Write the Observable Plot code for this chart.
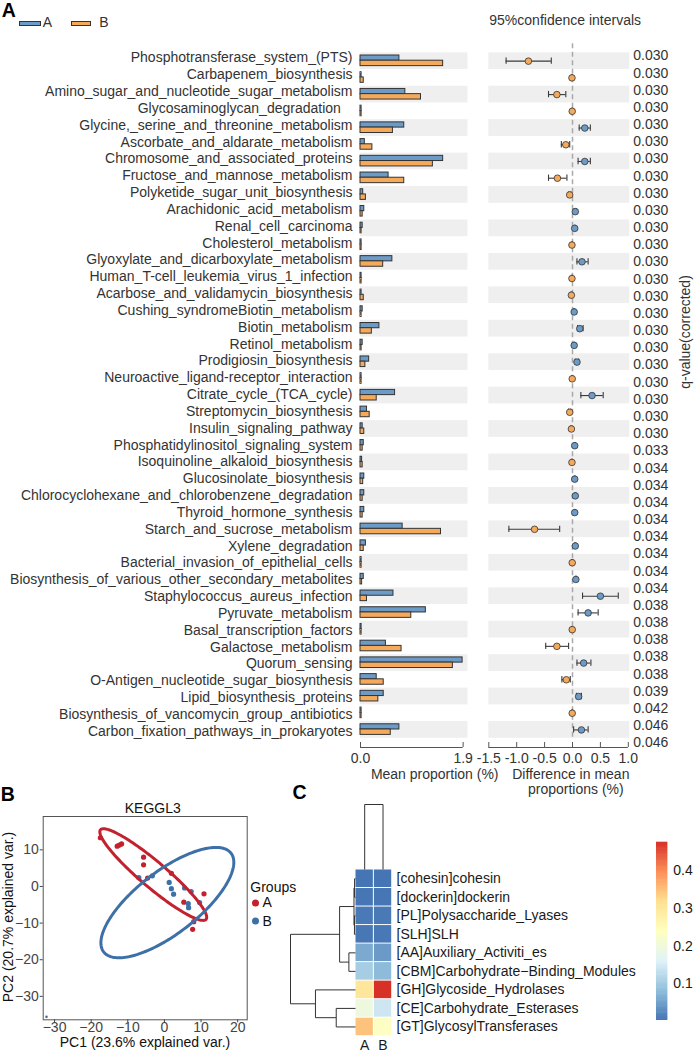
<!DOCTYPE html>
<html>
<head>
<meta charset="utf-8">
<script src="https://cdn.jsdelivr.net/npm/d3@7"></script>
<script src="https://cdn.jsdelivr.net/npm/@observablehq/plot@0.6"></script>
<style>
html, body { margin: 0; padding: 0; background: #fff; }
#fig { position: relative; width: 694px; height: 1053px; overflow: hidden; font-family: "Liberation Sans", Arial, sans-serif; color: #333; }
.t { position: absolute; white-space: pre; line-height: 1; }
.sw { position: absolute; box-sizing: border-box; border: 1px solid #333; }
</style>
</head>
<body>
<div id="fig"></div>
<script>
// ---------- Panel A: KEGG pathways, mean proportions and differences ----------
const pathways = [
  "Phosphotransferase_system_(PTS)", "Carbapenem_biosynthesis", "Amino_sugar_and_nucleotide_sugar_metabolism",
  "Glycosaminoglycan_degradation", "Glycine,_serine_and_threonine_metabolism", "Ascorbate_and_aldarate_metabolism",
  "Chromosome_and_associated_proteins", "Fructose_and_mannose_metabolism", "Polyketide_sugar_unit_biosynthesis",
  "Arachidonic_acid_metabolism", "Renal_cell_carcinoma", "Cholesterol_metabolism",
  "Glyoxylate_and_dicarboxylate_metabolism", "Human_T-cell_leukemia_virus_1_infection", "Acarbose_and_validamycin_biosynthesis",
  "Cushing_syndromeBiotin_metabolism", "Biotin_metabolism", "Retinol_metabolism",
  "Prodigiosin_biosynthesis", "Neuroactive_ligand-receptor_interaction", "Citrate_cycle_(TCA_cycle)",
  "Streptomycin_biosynthesis", "Insulin_signaling_pathway", "Phosphatidylinositol_signaling_system",
  "Isoquinoline_alkaloid_biosynthesis", "Glucosinolate_biosynthesis", "Chlorocyclohexane_and_chlorobenzene_degradation",
  "Thyroid_hormone_synthesis", "Starch_and_sucrose_metabolism", "Xylene_degradation",
  "Bacterial_invasion_of_epithelial_cells", "Biosynthesis_of_various_other_secondary_metabolites", "Staphylococcus_aureus_infection",
  "Pyruvate_metabolism", "Basal_transcription_factors", "Galactose_metabolism",
  "Quorum_sensing", "O-Antigen_nucleotide_sugar_biosynthesis", "Lipid_biosynthesis_proteins",
  "Biosynthesis_of_vancomycin_group_antibiotics", "Carbon_fixation_pathways_in_prokaryotes"
];
// a few names carry trailing blanks in the source table, which shifts them left
const labelPad = {"Glycosaminoglycan_degradation": "\u00a0\u00a0\u00a0"};
const meanA = [0.72, 0.02, 0.83, 0.02, 0.81, 0.08, 1.53, 0.52, 0.05, 0.07, 0.04, 0.02, 0.59, 0.02, 0.02, 0.04, 0.35, 0.04, 0.16, 0.02, 0.64,
               0.12, 0.04, 0.06, 0.03, 0.07, 0.07, 0.07, 0.78, 0.10, 0.02, 0.06, 0.61, 1.21, 0.02, 0.47, 1.89, 0.30, 0.43, 0.02, 0.72];
const meanB = [1.53, 0.06, 1.12, 0.02, 0.60, 0.22, 1.34, 0.81, 0.10, 0.04, 0.02, 0.02, 0.42, 0.02, 0.06, 0.02, 0.21, 0.02, 0.09, 0.02, 0.30,
               0.17, 0.07, 0.04, 0.04, 0.05, 0.04, 0.04, 1.49, 0.06, 0.02, 0.03, 0.12, 0.94, 0.02, 0.76, 1.71, 0.43, 0.33, 0.02, 0.56];
const diffMean = [-0.79, -0.01, -0.28, -0.005, 0.22, -0.12, 0.22, -0.27, -0.05, 0.05, 0.04, -0.01, 0.17, -0.01, -0.02, 0.03, 0.13, 0.03, 0.08, -0.005, 0.35,
                  -0.05, -0.02, 0.04, -0.01, 0.04, 0.05, 0.04, -0.68, 0.05, -0.005, 0.06, 0.50, 0.28, -0.005, -0.28, 0.20, -0.11, 0.11, -0.005, 0.16];
const ciLow  = [-1.19, -0.02, -0.43, -0.015, 0.12, -0.20, 0.10, -0.43, -0.07, 0.03, 0.03, -0.02, 0.08, -0.02, -0.03, 0.02, 0.09, 0.02, 0.05, -0.015, 0.15,
                -0.07, -0.03, 0.03, -0.02, 0.03, 0.04, 0.03, -1.14, 0.04, -0.015, 0.05, 0.18, 0.10, -0.015, -0.48, 0.08, -0.19, 0.07, -0.015, 0.02];
const ciHigh = [-0.38, 0.00, -0.12, 0.005, 0.32, -0.05, 0.32, -0.10, -0.03, 0.07, 0.05, 0.00, 0.28, 0.00, -0.01, 0.04, 0.19, 0.04, 0.11, 0.005, 0.55,
                -0.03, -0.01, 0.05, 0.00, 0.05, 0.06, 0.05, -0.23, 0.06, 0.005, 0.07, 0.82, 0.46, 0.005, -0.07, 0.33, -0.04, 0.16, 0.005, 0.28];
const qValues = [
  "0.030", "0.030", "0.030", "0.030", "0.030", "0.030", "0.030", "0.030", "0.030", "0.030", "0.030", "0.030",
  "0.030", "0.030", "0.030", "0.030", "0.030", "0.030", "0.030", "0.030", "0.030", "0.030", "0.030",
  "0.033", "0.034", "0.034", "0.034", "0.034", "0.034", "0.034", "0.034", "0.034",
  "0.038", "0.038", "0.038", "0.038", "0.038", "0.039", "0.042", "0.046", "0.046"
];
const barTicks = [0, 1.9];
const ciTicks = [-1.5, -1.0, -0.5, 0.0, 0.5, 1.0];

// ---------- Panel B: PCA of KEGG level-3 profiles ----------
const groups = ["A", "B"];
const pcaAx = [-17.5, -12.9, -12.3, -11.7, -5.7, -5.7, -4.6, 1.9, 5.3, 10.8, 8.0, 7.7];
const pcaAy = [13.3, 11.0, 11.3, 11.6, 8.0, 5.9, 2.3, 3.6, -4.3, -2.0, -9.6, -11.7];
const pcaBx = [-7.0, -3.3, 1.3, 1.9, 2.5, 5.5, 7.3, 6.5, 6.6, 9.6];
const pcaBy = [2.4, 2.9, 1.1, -0.6, -2.1, -0.4, -1.4, -4.7, -5.8, -4.4];
const pcaStray = [{x: -32.2, y: -35.6}];
// confidence ellipses: centre, semi-axes and rotation (degrees)
const ellipses = [
  {group: "A", cx: -3.05, cy: 3.25, a: 18.9, b: 3.5, angle: -40.3},
  {group: "B", cx: 0.8, cy: -4.4, a: 22.0, b: 8.5, angle: 37.8}
];

// ---------- Panel C: CAZy family heatmap ----------
const modules = [
  "[cohesin]cohesin", "[dockerin]dockerin", "[PL]Polysaccharide_Lyases", "[SLH]SLH",
  "[AA]Auxiliary_Activiti_es", "[CBM]Carbohydrate\u2212Binding_Modules", "[GH]Glycoside_Hydrolases",
  "[CE]Carbohydrate_Esterases", "[GT]GlycosylTransferases"
];
const heatA = [0.002, 0.003, 0.006, 0.004, 0.058, 0.102, 0.299, 0.195, 0.346];
const heatB = [0.002, 0.003, 0.007, 0.005, 0.042, 0.077, 0.476, 0.141, 0.232];
// hclust-style merges: negative = leaf (1-based display order), positive = earlier merge
const rowMerge = [[-1, -2], [-3, -4], [1, 2], [-5, -6], [3, 4], [-8, -9], [-7, 6], [5, 7]];
const rowHeight = [0.008, 0.009, 0.013, 0.057, 0.137, 0.166, 0.345, 0.56];
const colMerge = [[-1, -2]];
const colHeight = [0.33];
const heatTicks = [0.1, 0.2, 0.3, 0.4];
const palette = ["#4575B4", "#91BFDB", "#E0F3F8", "#FFFFBF", "#FEE090", "#FC8D59", "#D73027"];

// ---------- drawing ----------
const W = 694, H = 1053;
const FONT = "'Liberation Sans', Arial, sans-serif";
const BLUE = "#6B9BC6", ORANGE = "#F5A95B", RED = "#C4212E", STEEL = "#3E70A8";
const fig = document.getElementById("fig");

function layer({top = 0, width = W, height = H, ...opts}) {
  const svg = Plot.plot({
    width, height,
    style: {fontFamily: FONT, fontSize: "14px", color: "#333", background: "transparent", overflow: "visible"},
    ...opts
  });
  svg.style.position = "absolute";
  svg.style.left = "0px";
  svg.style.top = top + "px";
  fig.appendChild(svg);
}

function label(text, x, y, {size = 14, anchor = "start", weight = 400, rotate = 0, color = "#333"} = {}) {
  const el = document.createElement("div");
  el.className = "t";
  el.textContent = text;
  const tx = anchor === "start" ? "0%" : anchor === "middle" ? "-50%" : "-100%";
  el.style.left = x + "px";
  el.style.top = y + "px";
  el.style.fontSize = size + "px";
  el.style.fontWeight = weight;
  el.style.color = color;
  el.style.transform = `translate(${tx},-50%)` + (rotate ? ` rotate(${rotate}deg)` : "");
  fig.appendChild(el);
}

function swatch(x, y, w, h, fill) {
  const el = document.createElement("div");
  el.className = "sw";
  Object.assign(el.style, {left: x + "px", top: y + "px", width: w + "px", height: h + "px", background: fill});
  fig.appendChild(el);
}

// tree segments from merge table (position along leaves, height)
function dendroSegments(merge, height) {
  const nodes = [], segs = [];
  const node = k => (k < 0 ? {pos: -k, h: 0} : nodes[k - 1]);
  merge.forEach(([a, b], i) => {
    const A = node(a), B = node(b), h = height[i];
    segs.push({p1: A.pos, h1: A.h, p2: A.pos, h2: h});
    segs.push({p1: B.pos, h1: B.h, p2: B.pos, h2: h});
    segs.push({p1: A.pos, h1: h, p2: B.pos, h2: h});
    nodes.push({pos: (A.pos + B.pos) / 2, h});
  });
  return segs;
}

function ellipsePoints(e) {
  const t = e.angle * Math.PI / 180;
  return d3.range(0, 360, 2).map(deg => {
    const u = deg * Math.PI / 180;
    return {
      group: e.group,
      x: e.cx + e.a * Math.cos(u) * Math.cos(t) - e.b * Math.sin(u) * Math.sin(t),
      y: e.cy + e.a * Math.cos(u) * Math.sin(t) + e.b * Math.sin(u) * Math.cos(t)
    };
  });
}

const rows = pathways.map((name, i) => ({
  name, shown: name + (labelPad[name] || ""),
  A: meanA[i], B: meanB[i], d: diffMean[i], lo: ciLow[i], hi: ciHigh[i], q: qValues[i]
}));
const shaded = pathways.filter((_, i) => i % 2 === 0);
const fixed1 = d => d.toFixed(1);

// --- Panel A ---
label("A", 1.8, 11.3, {size: 19.5, weight: 700, color: "#000"});
swatch(19, 20.7, 21.7, 5.6, BLUE);
label("A", 42.7, 21.7);
swatch(71, 20.7, 20, 5.6, ORANGE);
label("B", 99.3, 21.7);
label("95%confidence intervals", 489.3, 20.4);

// pathway names
layer({
  marginLeft: 0, marginRight: W - 352,
  y: {type: "point", domain: pathways, range: [57.4, 730.7], padding: 0, round: false, axis: null},
  marks: [Plot.text(rows, {y: "name", text: "shown", frameAnchor: "right", textAnchor: "end", fontSize: 14, fill: "#333"})]
});

// mean proportion bars
layer({
  marginLeft: 360, marginRight: W - 467.5, marginTop: 52.3, marginBottom: H - 737.8,
  x: {domain: [0, 1.99], axis: null},
  y: {type: "band", domain: pathways, padding: 0, round: false, axis: null},
  marks: [
    Plot.barX(shaded, {y: d => d, x1: 0, x2: 1.99, fill: "#efefef"}),
    Plot.barX(rows, {y: "name", x: "A", fill: BLUE, stroke: "#333", strokeWidth: 1, insetTop: 2.7, insetBottom: 8.8}),
    Plot.barX(rows, {y: "name", x: "B", fill: ORANGE, stroke: "#333", strokeWidth: 1, insetTop: 7.9, insetBottom: 3.4})
  ]
});
layer({
  top: 737.3, height: 50, marginLeft: 360, marginRight: W - 467.5, marginTop: 0, marginBottom: 40,
  x: {domain: [0, 1.99]},
  y: {domain: [0, 1], range: [10, 5], axis: null},
  marks: [
    Plot.ruleY([0], {x1: barTicks[0], x2: barTicks[barTicks.length - 1], stroke: "#555"}),
    Plot.ruleX(barTicks, {y1: 0, y2: 1, stroke: "#555"}),
    Plot.axisX({ticks: barTicks, tickSize: 0, tickPadding: 5.3, tickFormat: fixed1, fontSize: 14, label: null})
  ]
});
label("Mean proportion (%)", 434.7, 773.6, {anchor: "middle"});

// differences with 95% confidence intervals
layer({
  marginLeft: 488.3, marginRight: W - 629.2, marginTop: 43.3, marginBottom: H - 737.8,
  x: {domain: [-1.5, 1.025], axis: null},
  y: {type: "band", domain: pathways, padding: 0, round: false, insetTop: 9, axis: null},
  marks: [
    Plot.barX(shaded, {y: d => d, x1: -1.5, x2: 1.025, fill: "#efefef"}),
    Plot.ruleX([0], {stroke: "#a9a9a9", strokeWidth: 1.5, strokeDasharray: "5,3.5"}),
    Plot.ruleY(rows, {y: "name", x1: "lo", x2: "hi", stroke: "#3a3a3a", strokeWidth: 1.1}),
    Plot.tickX(rows, {y: "name", x: "lo", stroke: "#3a3a3a", strokeWidth: 1.1, insetTop: 5.2, insetBottom: 5.2}),
    Plot.tickX(rows, {y: "name", x: "hi", stroke: "#3a3a3a", strokeWidth: 1.1, insetTop: 5.2, insetBottom: 5.2}),
    Plot.dot(rows, {filter: d => d.d > 0, y: "name", x: "d", r: 3.3, fill: BLUE, stroke: "#333", strokeWidth: 0.8}),
    Plot.dot(rows, {filter: d => d.d <= 0, y: "name", x: "d", r: 3.3, fill: ORANGE, stroke: "#333", strokeWidth: 0.8})
  ]
});
layer({
  top: 737.3, height: 50, marginLeft: 488.3, marginRight: W - 629.2, marginTop: 0, marginBottom: 40,
  x: {domain: [-1.5, 1.025]},
  y: {domain: [0, 1], range: [10, 5], axis: null},
  marks: [
    Plot.ruleY([0], {x1: ciTicks[0], x2: ciTicks[ciTicks.length - 1], stroke: "#555"}),
    Plot.ruleX(ciTicks, {y1: 0, y2: 1, stroke: "#555"}),
    Plot.axisX({ticks: ciTicks, tickSize: 0, tickPadding: 5.3, tickFormat: fixed1, fontSize: 14, label: null})
  ]
});
label("Difference in mean", 570.8, 773.6, {anchor: "middle"});
label("proportions (%)", 575.8, 789, {anchor: "middle"});

// corrected q-values
layer({
  marginLeft: 632.7, marginRight: 0,
  y: {type: "point", domain: pathways, range: [55.5, 742.2], padding: 0, round: false, axis: null},
  marks: [Plot.text(rows, {y: "name", text: "q", frameAnchor: "left", textAnchor: "start", fontSize: 14, fill: "#333"})]
});
label("q-value(corrected)", 685.1, 332, {anchor: "middle", rotate: -90});

// --- Panel B ---
label("B", 0.8, 795, {size: 19.5, weight: 700, color: "#000"});
label("KEGGL3", 152.8, 808.3, {anchor: "middle", color: "#111"});
const pcaA = pcaAx.map((x, i) => ({x, y: pcaAy[i]}));
const pcaB = pcaBx.map((x, i) => ({x, y: pcaBy[i]}));
layer({
  marginLeft: 42.7, marginRight: W - 246.7, marginTop: 816, marginBottom: H - 1019.3,
  x: {domain: [-33.1, 22.6]},
  y: {domain: [-36.4, 19.1]},
  marks: [
    Plot.frame({stroke: "#555"}),
    Plot.dot(pcaA, {x: "x", y: "y", r: 2.6, fill: RED}),
    Plot.dot(pcaB, {x: "x", y: "y", r: 2.6, fill: STEEL}),
    Plot.dot(pcaStray, {x: "x", y: "y", r: 1.3, fill: STEEL}),
    Plot.line(ellipsePoints(ellipses[0]), {x: "x", y: "y", stroke: RED, strokeWidth: 3, curve: "linear-closed"}),
    Plot.line(ellipsePoints(ellipses[1]), {x: "x", y: "y", stroke: STEEL, strokeWidth: 3, curve: "linear-closed"}),
    Plot.axisX({ticks: [-30, -20, -10, 0, 10, 20], tickSize: 3, tickPadding: -0.6, fontSize: 14, color: "#444", label: null}),
    Plot.axisY({ticks: [-30, -20, -10, 0, 10], tickSize: 3, tickPadding: 1.4, fontSize: 14, color: "#444", label: null})
  ]
});
label("PC1 (23.6% explained var.)", 145, 1041.6, {anchor: "middle", color: "#111"});
label("PC2 (20.7% explained var.)", 8, 917, {anchor: "middle", rotate: -90, color: "#111"});
label("Groups", 250.3, 887, {color: "#111"});
layer({
  marginLeft: 250, marginRight: W - 260,
  y: {type: "point", domain: groups, range: [902.4, 920.6], padding: 0, round: false, axis: null},
  color: {domain: groups, range: [RED, STEEL]},
  marks: [
    Plot.dot(groups, {y: d => d, fill: d => d, r: 3.5}),
    Plot.text(groups, {y: d => d, text: d => d, frameAnchor: "right", textAnchor: "start", dx: 2, fontSize: 14, fill: "#111"})
  ]
});

// --- Panel C ---
label("C", 292.5, 793, {size: 19.5, weight: 700, color: "#000"});
const heat = modules.flatMap((m, i) => [
  {module: m, group: "A", value: heatA[i]},
  {module: m, group: "B", value: heatB[i]}
]);
const vmin = d3.min(heat, d => d.value), vmax = d3.max(heat, d => d.value);
const colorOpts = {
  type: "linear",
  domain: palette.map((_, i) => vmin + (vmax - vmin) * i / (palette.length - 1)),
  range: palette,
  interpolate: "rgb"
};
layer({
  marginLeft: 355, marginRight: W - 391.7, marginTop: 869, marginBottom: H - 1035.7,
  x: {type: "band", domain: groups, padding: 0, round: false},
  y: {type: "band", domain: modules, padding: 0, round: false},
  color: colorOpts,
  marks: [
    Plot.cell(heat, {x: "group", y: "module", fill: "value", inset: 0.5}),
    Plot.axisY({anchor: "right", tickSize: 0, tickPadding: 4.3, fontSize: 14, color: "#1a1a1a", label: null}),
    Plot.axisX({anchor: "bottom", tickSize: 0, tickPadding: 3.4, fontSize: 14, color: "#1a1a1a", label: null})
  ]
});
// row dendrogram
layer({
  marginLeft: 290, marginRight: W - 355,
  x: {domain: [d3.max(rowHeight), 0], axis: null},
  y: {domain: [0.5, modules.length + 0.5], range: [869, 1035.7], axis: null},
  marks: [Plot.link(dendroSegments(rowMerge, rowHeight), {x1: "h1", y1: "p1", x2: "h2", y2: "p2", stroke: "#333", strokeWidth: 1})]
});
// column dendrogram
layer({
  x: {domain: [0.5, groups.length + 0.5], range: [355, 391.7], axis: null},
  y: {domain: [0, d3.max(colHeight)], range: [869, 804], axis: null},
  marks: [Plot.link(dendroSegments(colMerge, colHeight), {x1: "p1", y1: "h1", x2: "p2", y2: "h2", stroke: "#333", strokeWidth: 1})]
});
// colour key
const keyStep = (vmax - vmin) / 150;
const keySlices = d3.range(150).map(i => vmin + i * keyStep);
layer({
  marginLeft: 656, marginRight: W - 667.3,
  y: {domain: [vmin, vmax], range: [1020, 841.7]},
  color: colorOpts,
  marks: [
    Plot.rect(keySlices, {y1: d => d, y2: d => Math.min(vmax, d + keyStep * 1.5), fill: d => d + keyStep / 2}),
    Plot.axisY({anchor: "right", ticks: heatTicks, tickSize: 0, tickPadding: 5.4, tickFormat: fixed1, fontSize: 14, color: "#1a1a1a", label: null})
  ]
});
</script>
</body>
</html>
